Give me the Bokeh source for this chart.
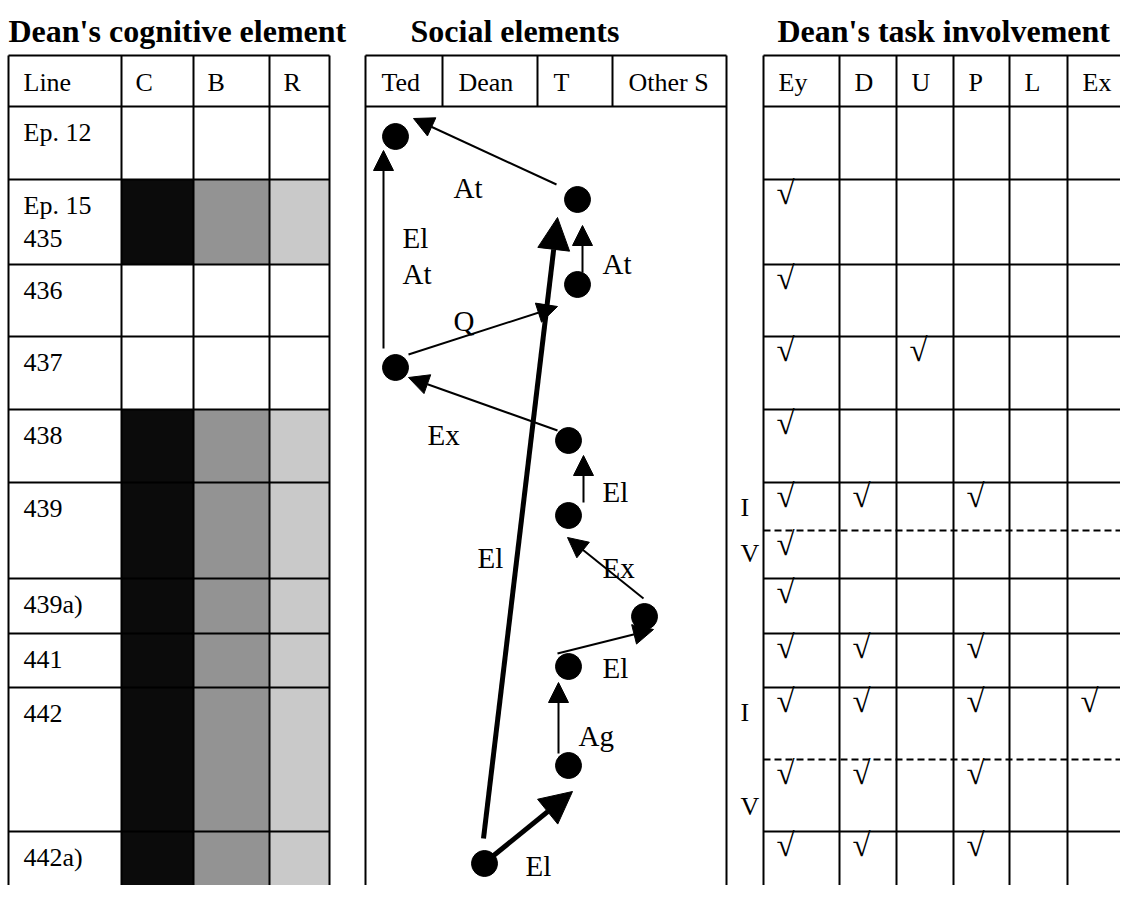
from bokeh.plotting import figure
from bokeh.models import Range1d, Arrow, NormalHead, ColumnDataSource
from bokeh.core.properties import value
from bokeh.embed import file_html
from bokeh.resources import INLINE

FONT = value("Liberation Serif")

# ---------------- data ----------------
titles = ["Dean's cognitive element", "Social elements", "Dean's task involvement"]

row_labels = ["Ep. 12", "Ep. 15\n435", "436", "437", "438", "439", "439a)", "441", "442", "442a)"]
cog_cols = ["C", "B", "R"]
cog_shades = ["#0b0b0b", "#939393", "#c9c9c9"]
cog_present = [0, 1, 0, 0, 1, 1, 1, 1, 1, 1]

social_cols = ["Ted", "Dean", "T", "Other S"]

task_cols = ["Ey", "D", "U", "P", "L", "Ex"]
task_rows = [1, 2, 3, 4, 5, 5, 6, 7, 8, 8, 9]
task_parts = ["", "", "", "", "I", "V", "", "", "I", "V", ""]
task_checks = [["Ey"], ["Ey"], ["Ey", "U"], ["Ey"], ["Ey", "D", "P"], ["Ey"],
               ["Ey"], ["Ey", "D", "P"], ["Ey", "D", "P", "Ex"], ["Ey", "D", "P"],
               ["Ey", "D", "P"]]

# social moves (diagram coordinates)
dot_x = [395, 577, 577, 395, 568, 568, 644, 568, 568, 484]
dot_y = [136, 199, 284, 367, 440, 515, 616, 666, 765, 863]

thin_x0 = [556, 383, 582, 408, 557, 583, 643, 557, 558]
thin_y0 = [184, 348, 272, 354, 430, 502, 598, 653, 753]
thin_x1 = [413, 383, 582, 557, 408, 583, 567, 653, 558]
thin_y1 = [118, 150, 225, 306, 377, 455, 537, 629, 682]

thick_x0 = [483, 487]
thick_y0 = [838, 860]
thick_x1 = [557, 572]
thick_y1 = [217, 791]

move_labels = ["At", "El", "At", "At", "Q", "Ex", "El", "El", "Ex", "El", "Ag", "El"]
move_lx = [453, 402, 402, 602, 453, 427, 602, 477, 602, 602, 578, 525]
move_ly = [187, 237, 273, 263, 320, 434, 491, 557, 567, 667, 735, 865]

# ---------------- layout ----------------
W, H = 1120, 885
TOP, HEAD_BOT, BOTTOM = 55, 106, 910
row_edges = [106, 179, 264, 336, 409, 482, 578, 633, 687, 831, 910]
split_y = {5: 530, 8: 759}
part_label_y = {(5, "I"): 507, (5, "V"): 553, (8, "I"): 712, (8, "V"): 806}
cog_x = [8, 121, 193, 269, 329]
soc_x = [365, 442, 537, 612, 726]
task_x = [763, 839, 896, 953, 1009, 1067, 1145]

p = figure(width=W, height=H, x_range=Range1d(0, W), y_range=Range1d(H, 0),
           output_backend="svg", toolbar_location=None,
           x_axis_location=None, y_axis_location=None, min_border=0,
           outline_line_color=None, background_fill_color="white",
           border_fill_color="white")
p.xgrid.visible = False
p.ygrid.visible = False

# cognitive fills
ql, qr, qt, qb, qc = [], [], [], [], []
for i, on in enumerate(cog_present):
    if on:
        for j, shade in enumerate(cog_shades):
            ql.append(cog_x[j + 1]); qr.append(cog_x[j + 2])
            qt.append(row_edges[i]); qb.append(row_edges[i + 1]); qc.append(shade)
p.quad(left=ql, right=qr, top=qt, bottom=qb, fill_color=qc, line_color=None)

# grid lines
sx0, sy0, sx1, sy1 = [], [], [], []
def seg(a, b, c, d):
    sx0.append(a); sy0.append(b); sx1.append(c); sy1.append(d)

for y in [TOP] + row_edges[:-1]:
    seg(cog_x[0], y, cog_x[-1], y)
    seg(task_x[0], y, task_x[-1], y)
for x in cog_x:
    seg(x, TOP, x, BOTTOM)
for x in task_x:
    seg(x, TOP, x, BOTTOM)
for y in [TOP, HEAD_BOT]:
    seg(soc_x[0], y, soc_x[-1], y)
for x in soc_x[1:-1]:
    seg(x, TOP, x, HEAD_BOT)
for x in (soc_x[0], soc_x[-1]):
    seg(x, TOP, x, BOTTOM)
p.segment(sx0, sy0, sx1, sy1, line_color="black", line_width=2)

dy = list(split_y.values())
p.segment([task_x[0]] * len(dy), dy, [task_x[-1]] * len(dy), dy,
          line_color="black", line_width=2, line_dash="7 4")

# titles
p.text([8, 410, 777], [30, 30, 30], text=titles, text_font=FONT,
       text_font_size="32px", text_font_style="bold", text_baseline="alphabetic",
       text_align="left", text_color="black")

# headers
hx, ht = [23], ["Line"]
for j, c in enumerate(cog_cols):
    hx.append(cog_x[j + 1] + 14); ht.append(c)
for j, c in enumerate(social_cols):
    hx.append(soc_x[j] + 16); ht.append(c)
for j, c in enumerate(task_cols):
    hx.append(task_x[j] + 15); ht.append(c)
p.text(hx, [82] * len(hx), text=ht, text_font=FONT, text_font_size="26px",
       text_baseline="alphabetic", text_align="left", text_color="black")

# row labels
rx, ry, rt = [], [], []
for i, lab in enumerate(row_labels):
    for k, line in enumerate(lab.split("\n")):
        rx.append(23); ry.append(row_edges[i] + 26 + 33 * k); rt.append(line)
p.text(rx, ry, text=rt, text_font=FONT, text_font_size="26px",
       text_baseline="alphabetic", text_align="left", text_color="black")

# checks and I/V labels
cx, cy = [], []
lx, ly, lt = [], [], []
for r, part, cols in zip(task_rows, task_parts, task_checks):
    top = split_y[r] if part == "V" else row_edges[r]
    for col in cols:
        j = task_cols.index(col)
        cx.append(task_x[j] + 22); cy.append(top + 13)
    if part:
        lx.append(740); ly.append(part_label_y[(r, part)]); lt.append(part)
p.text(cx, cy, text=["\u221a"] * len(cx), text_font=FONT, text_font_size="33px",
       text_baseline="middle", text_align="center", text_color="black")
p.text(lx, ly, text=lt, text_font=FONT, text_font_size="26px",
       text_baseline="alphabetic", text_align="left", text_color="black")

# social diagram
thin = ColumnDataSource(dict(x0=thin_x0, y0=thin_y0, x1=thin_x1, y1=thin_y1))
thick = ColumnDataSource(dict(x0=thick_x0, y0=thick_y0, x1=thick_x1, y1=thick_y1))
p.add_layout(Arrow(end=NormalHead(size=20, fill_color="black", line_color="black", line_width=1),
                   source=thin, x_start="x0", y_start="y0", x_end="x1", y_end="y1",
                   line_width=2, line_color="black"))
p.add_layout(Arrow(end=NormalHead(size=32, fill_color="black", line_color="black", line_width=1),
                   source=thick, x_start="x0", y_start="y0", x_end="x1", y_end="y1",
                   line_width=5, line_color="black"))
p.scatter(dot_x, dot_y, size=26, color="black")
p.text(move_lx, move_ly, text=move_labels, text_font=FONT, text_font_size="29px",
       text_baseline="alphabetic", text_align="left", text_color="black")

open("out.html", "w").write(file_html(p, INLINE))
